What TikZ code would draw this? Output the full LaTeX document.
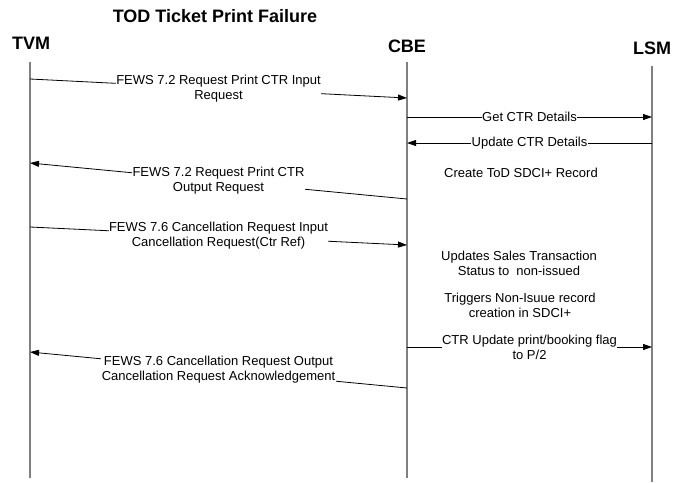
\documentclass[tikz,border=0pt]{standalone}
\usepackage{fontspec}
\setmainfont{Liberation Sans}
\usetikzlibrary{arrows.meta}
\tikzset{
  actor/.style={font=\fontsize{18}{20}\selectfont\bfseries, inner sep=0pt},
  lifeline/.style={draw=black!50, line width=1.5pt},
  msg/.style={draw=black, line width=0.8pt, -{Triangle[length=9pt,width=6pt]}},
  lbl/.style={fill=white, inner sep=0.5pt, align=center, font=\fontsize{13}{15}\selectfont},
  note/.style={inner sep=0pt, align=center, font=\fontsize{13}{15}\selectfont}
}
\begin{document}
\begin{tikzpicture}[x=1pt,y=-1pt]
\useasboundingbox (0,0) rectangle (682,482);
% title
\node[font=\fontsize{18}{20}\selectfont\bfseries, inner sep=0pt] (title) at (215,16) {TOD Ticket Print Failure};
% actors
\node[actor] (tvm) at (31,43) {TVM};
\node[actor] (cbe) at (407,46) {CBE};
\node[actor] (lsm) at (652,48) {LSM};
% lifelines
\coordinate (tvmtop) at (30,62);  \coordinate (tvmbot) at (30,478);
\coordinate (cbetop) at (407,62); \coordinate (cbebot) at (407,478);
\coordinate (lsmtop) at (652,66); \coordinate (lsmbot) at (652,482);
\draw[lifeline] (tvmtop) -- (tvmbot);
\draw[lifeline] (cbetop) -- (cbebot);
\draw[lifeline] (lsmtop) -- (lsmbot);
% message end points
\coordinate (t1) at (30,79);   \coordinate (c1) at (407,98);
\coordinate (c2) at (407,117); \coordinate (l2) at (652,117);
\coordinate (l3) at (652,143); \coordinate (c3) at (407,143);
\coordinate (c5) at (407,199); \coordinate (t5) at (30,163);
\coordinate (t6) at (30,227);  \coordinate (c6) at (407,245);
\coordinate (c9) at (407,347); \coordinate (l9) at (652,347);
\coordinate (c10) at (407,388); \coordinate (t10) at (30,352);
% messages
\draw[msg] (t1) -- node[lbl] (m1) {FEWS 7.2 Request Print CTR Input\\Request} (c1);
\draw[msg] (c2) -- node[lbl] (m2) {Get CTR Details} (l2);
\draw[msg] (l3) -- node[lbl] (m3) {Update CTR Details} (c3);
\node[note] (n4) at (521,173) {Create ToD SDCI+ Record};
\draw[msg] (c5) -- node[lbl] (m5) {FEWS 7.2 Request Print CTR\\Output Request} (t5);
\draw[msg] (t6) -- node[lbl] (m6) {FEWS 7.6 Cancellation Request Input\\Cancellation Request(Ctr Ref)} (c6);
\node[note] (n7) at (519,263) {Updates Sales Transaction\\Status to\ \ non-issued};
\node[note] (n8) at (520,305) {Triggers Non-Isuue record\\creation in SDCI+};
\draw[msg] (c9) -- node[lbl] (m9) {CTR Update print/booking flag\\to P/2} (l9);
\draw[msg] (c10) -- node[lbl] (m10) {FEWS 7.6 Cancellation Request Output\\Cancellation Request Acknowledgement} (t10);
\end{tikzpicture}
\end{document}
